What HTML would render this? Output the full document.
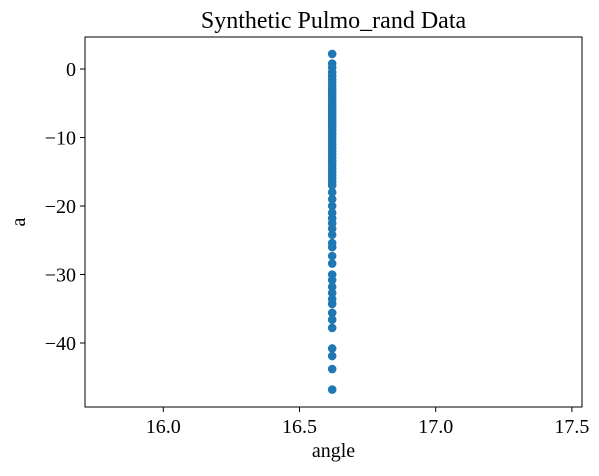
<!DOCTYPE html>
<html><head><meta charset="utf-8"><style>
body{margin:0;background:#fff}
text{font-family:"Liberation Serif",serif;fill:#000}
</style></head><body>
<svg id="c" width="599" height="471"></svg>
<script>
const angles=[16.62];
const aValues=[2.2,0.8,0.2,-0.5,-1,-1.5,-2,-2.5,-3,-3.4,-3.8,-4.2,-4.6,-5,-5.4,-5.8,-6.2,-6.6,-7,-7.4,-7.8,-8.2,-8.6,-9,-9.5,-10,-10.5,-11,-11.5,-12,-12.5,-13,-13.5,-14,-14.5,-15,-15.5,-16,-16.5,-17,-18,-19,-20,-21,-21.8,-22.5,-23.3,-24.2,-25.4,-26,-27.3,-28.4,-30,-30.8,-31.8,-32.7,-33.6,-34.3,-35.6,-36.6,-37.8,-40.8,-41.9,-43.8,-46.8];
const xTicks=[16.0,16.5,17.0,17.5];
const yTicks=[0,-10,-20,-30,-40];
const NS="http://www.w3.org/2000/svg",svg=document.getElementById('c');
const L=85,R=582,T=37,B=407;
const xs=v=>163.3+(v-16.0)*272.4;
const ys=v=>69-v*6.85;
function mk(t,a,p){const e=document.createElementNS(NS,t);for(const k in a)e.setAttribute(k,a[k]);(p||svg).appendChild(e);return e;}
const title=mk('text',{x:(L+R)/2,y:28,'text-anchor':'middle','font-size':24});title.textContent='Synthetic Pulmo_rand Data';


const g=mk('g',{});


aValues.forEach(v=>{const c=mk('circle',{cx:xs(angles[0]),cy:ys(v),r:4.3,fill:'#1f77b4'},g);

});
const fr=mk('rect',{x:L,y:T,width:R-L,height:B-T,fill:'none',stroke:'#000','stroke-width':1});


xTicks.forEach(v=>{const x=xs(v);mk('line',{x1:x,x2:x,y1:B,y2:B+5,stroke:'#000'});
const t=mk('text',{x:x,y:B+26,'text-anchor':'middle','font-size':20});t.textContent=v.toFixed(1);

});
yTicks.forEach(v=>{const y=ys(v);mk('line',{x1:L-5,x2:L,y1:y,y2:y,stroke:'#000'});
const t=mk('text',{x:L-9,y:y+7,'text-anchor':'end','font-size':20});t.textContent=(v<0?'\u2212'+(-v):v);

});
const xt=mk('text',{x:(L+R)/2,y:457,'text-anchor':'middle','font-size':20});xt.textContent='angle';


const yt=mk('text',{x:0,y:0,'text-anchor':'middle','font-size':20,transform:'translate(25,'+((T+B)/2)+') rotate(-90)'});yt.textContent='a';


</script>
</body></html>
